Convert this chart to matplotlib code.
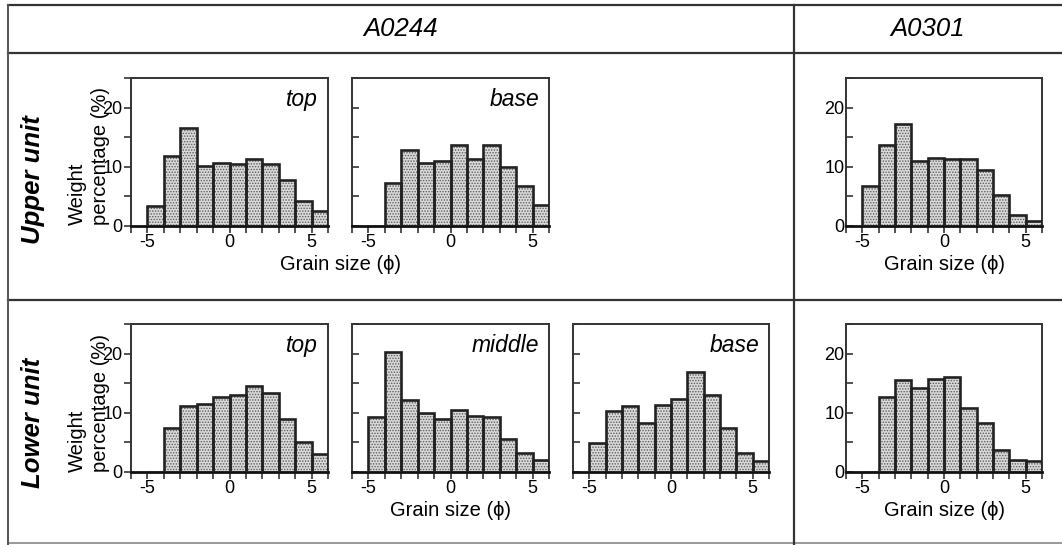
import numpy as np
import matplotlib
matplotlib.use("Agg")
import matplotlib.pyplot as plt
from matplotlib.lines import Line2D
from matplotlib.ticker import MultipleLocator

plt.rcParams['font.family'] = ['Liberation Sans', 'DejaVu Sans']
plt.rcParams['axes.unicode_minus'] = False
plt.rcParams['hatch.linewidth'] = 0.7

# grain size bins (phi), 1-phi classes from -5 to 6
edges = np.arange(-5, 7)

# weight percentage per class
upper_top = [3.4, 11.9, 16.6, 10.1, 10.6, 10.4, 11.4, 10.5, 7.8, 4.2, 2.6]
upper_base = [0, 7.3, 12.8, 10.7, 11.0, 13.6, 11.4, 13.7, 9.9, 6.7, 3.6]
upper_a0301 = [6.8, 13.6, 17.2, 10.9, 11.5, 11.25, 11.25, 9.5, 5.2, 1.9, 0.8]
lower_top = [0, 7.5, 11.2, 11.5, 12.6, 13.05, 14.6, 13.3, 8.9, 5.0, 3.05]
lower_middle = [9.3, 20.2, 12.1, 10.0, 9.0, 10.5, 9.5, 9.3, 5.65, 3.2, 2.1]
lower_base = [4.9, 10.3, 11.2, 8.3, 11.3, 12.3, 16.9, 13.05, 7.5, 3.2, 1.9]
lower_a0301 = [0, 12.6, 15.5, 14.2, 15.7, 16.0, 10.8, 8.2, 3.7, 2.1, 1.9]

W, H = 1062, 545
fig = plt.figure(figsize=(W / 100, H / 100), dpi=100)


def fx(px):
    return px / W


def fy(py):
    return 1 - py / H


def panel(x0, x1, y0, y1, vals, label=None, ylabels=False, tick_dir='in'):
    ax = fig.add_axes([fx(x0), fy(y1), fx(x1) - fx(x0), (y1 - y0) / H])
    v = np.array(vals)
    ax.bar(edges[:-1], v, width=1, align='edge', facecolor='#dadada',
           edgecolor='#5a5a5a', hatch='......', linewidth=0, zorder=2)
    ax.bar(edges[:-1], v, width=1, align='edge', fill=False,
           edgecolor='#222222', linewidth=1.9, zorder=3)
    ax.set_xlim(-6, 6)
    ax.set_ylim(0, 25)
    ax.xaxis.set_major_locator(MultipleLocator(5))
    ax.xaxis.set_minor_locator(MultipleLocator(1))
    ax.yaxis.set_major_locator(MultipleLocator(10))
    ax.yaxis.set_minor_locator(MultipleLocator(5))
    ax.tick_params(axis='x', which='both', direction='out', length=5,
                   width=1.2, labelsize=13, pad=1, color='#333333')
    ax.tick_params(axis='y', which='both', direction=tick_dir, length=5,
                   width=1.2, labelsize=13, pad=1, color='#333333',
                   labelleft=ylabels)
    for s in ax.spines.values():
        s.set_linewidth(1.4)
        s.set_color('#333333')
    ax.spines['bottom'].set_linewidth(2)
    ax.spines['bottom'].set_color('#111111')
    if label:
        ax.text(0.95, 0.93, label, transform=ax.transAxes, ha='right',
                va='top', fontsize=16.5, style='italic')
    return ax


# upper row
uy0, uy1 = 78, 226
panel(131, 328, uy0, uy1, upper_top, 'top', ylabels=True, tick_dir='out')
panel(352, 549, uy0, uy1, upper_base, 'base')
panel(846, 1042, uy0, uy1, upper_a0301, ylabels=True)

# lower row
ly0, ly1 = 324, 472
panel(131, 328, ly0, ly1, lower_top, 'top', ylabels=True, tick_dir='out')
panel(352, 549, ly0, ly1, lower_middle, 'middle')
panel(573, 769, ly0, ly1, lower_base, 'base')
panel(846, 1042, ly0, ly1, lower_a0301, ylabels=True)

# table frame
lc = '#333333'
for y in (5, 53, 300):
    fig.add_artist(Line2D([fx(8), 1], [fy(y), fy(y)], color=lc, lw=1.6))
fig.add_artist(Line2D([fx(8), 1], [fy(543), fy(543)], color='#888888', lw=1.2))
fig.add_artist(Line2D([fx(8), fx(8)], [fy(5), 0], color='#555555', lw=1.4))
fig.add_artist(Line2D([fx(794), fx(794)], [fy(5), 0], color=lc, lw=1.6))

# headers
fig.text(fx(401), fy(29), 'A0244', ha='center', va='center', fontsize=18.5,
         style='italic')
fig.text(fx(928), fy(29), 'A0301', ha='center', va='center', fontsize=18.5,
         style='italic')

# row labels
fig.text(fx(33), fy(180), 'Upper unit', rotation=90, ha='center', va='center',
         fontsize=18.5, weight='bold', style='italic')
fig.text(fx(33), fy(423), 'Lower unit', rotation=90, ha='center', va='center',
         fontsize=18.5, weight='bold', style='italic')

# y axis labels
for yb in (225, 472):
    fig.text(fx(89), fy(yb), 'Weight\npercentage (%)', rotation=90,
             ha='center', va='bottom', fontsize=14.5, linespacing=1.3,
             multialignment='left')

# x axis labels
xlab = 'Grain size (\u03d5)'
fig.text(fx(340), fy(265), xlab, ha='center', va='center', fontsize=14.5)
fig.text(fx(944), fy(265), xlab, ha='center', va='center', fontsize=14.5)
fig.text(fx(450), fy(511), xlab, ha='center', va='center', fontsize=14.5)
fig.text(fx(944), fy(511), xlab, ha='center', va='center', fontsize=14.5)

fig.savefig('out.png', dpi=100)
